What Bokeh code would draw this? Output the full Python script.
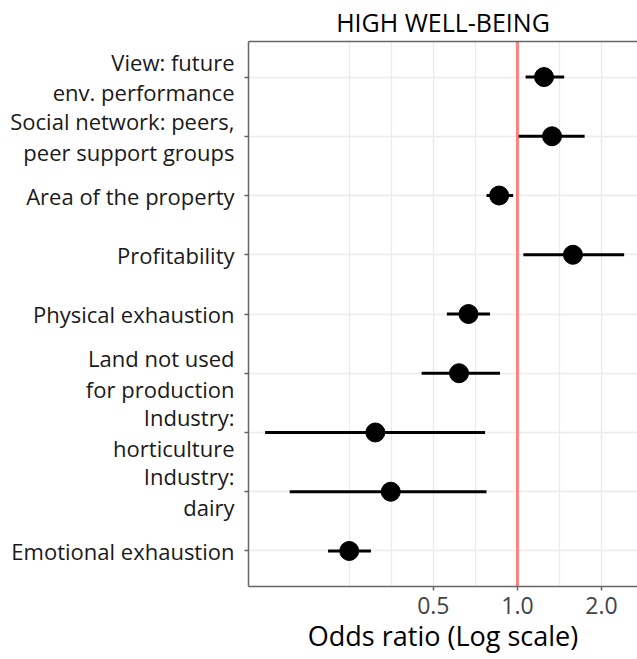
from bokeh.plotting import figure
from bokeh.models import (FactorRange, Range1d, FixedTicker, CustomJSTickFormatter,
                          Span, LinearAxis, ColumnDataSource)
from bokeh.embed import file_html
from bokeh.resources import INLINE

# ---- data (top to bottom as shown) ----
predictors = [
    "View: future\nenv. performance",
    "Social network: peers,\npeer support groups",
    "Area of the property",
    "Profitability",
    "Physical exhaustion",
    "Land not used\nfor production",
    "Industry:\nhorticulture",
    "Industry:\ndairy",
    "Emotional exhaustion",
]
odds_ratio = [1.245, 1.33, 0.86, 1.58, 0.668, 0.618, 0.31, 0.352, 0.25]
ci_lower = [1.07, 1.01, 0.775, 1.05, 0.559, 0.454, 0.125, 0.153, 0.21]
ci_upper = [1.47, 1.74, 0.965, 2.41, 0.798, 0.866, 0.766, 0.775, 0.299]
x_ticks = [0.5, 1.0, 2.0]
x_minor_ticks = [0.25, 0.3536, 0.7071, 1.4142]
reference_line = 1.0
x_title = "Odds ratio (Log scale)"

FONT = "Open Sans"

source = ColumnDataSource(dict(pred=predictors, odds=odds_ratio, lo=ci_lower, hi=ci_upper))

p = figure(
    width=637, height=659,
    x_axis_type="log",
    x_range=Range1d(0.109, 2.69),
    y_range=FactorRange(factors=predictors[::-1], range_padding=0.1,
                        range_padding_units="absolute"),
    output_backend="svg", toolbar_location=None,
    min_border_left=248, min_border_right=0, min_border_top=39, min_border_bottom=73,
    background_fill_color="white", border_fill_color="white",
    outline_line_color=None,
)

# title
p.title.text = "HIGH WELL-BEING"
p.title.align = "center"
p.title.text_font = FONT
p.title.text_font_size = "25px"
p.title.text_font_style = "normal"
p.title.text_color = "black"
p.title.standoff = 5

# grids
p.xgrid.grid_line_color = "#ebebeb"
p.xgrid.grid_line_width = 1.4
p.xgrid.minor_grid_line_color = "#ebebeb"
p.xgrid.minor_grid_line_width = 1.2
p.ygrid.grid_line_color = "#ebebeb"
p.ygrid.grid_line_width = 1.4

# x axis
xa = p.xaxis[0]
xa.ticker = FixedTicker(ticks=x_ticks, minor_ticks=x_minor_ticks)
xa.formatter = CustomJSTickFormatter(code="return tick.toFixed(1);")
xa.axis_label = x_title
xa.axis_label_text_font = FONT
xa.axis_label_text_font_size = "27px"
xa.axis_label_text_font_style = "normal"
xa.axis_label_text_color = "black"
xa.axis_label_text_baseline = "middle"
xa.axis_label_standoff = 0
xa.major_label_text_font = FONT
xa.major_label_text_font_size = "23px"
xa.major_label_text_color = "#444444"
xa.major_label_standoff = 6
xa.axis_line_color = "#666666"
xa.axis_line_width = 1.5
xa.major_tick_line_color = "#666666"
xa.major_tick_line_width = 1.5
xa.major_tick_out = 4
xa.major_tick_in = 0
xa.minor_tick_line_color = None

# y axis
ya = p.yaxis[0]
ya.major_label_text_font = FONT
ya.major_label_text_font_size = "22px"
ya.major_label_text_color = "#1a1a1a"
ya.major_label_text_line_height = 1.02
ya.major_label_standoff = 10
ya.axis_line_color = "#666666"
ya.axis_line_width = 1.5
ya.major_tick_line_color = "#666666"
ya.major_tick_line_width = 1.5
ya.major_tick_out = 4
ya.major_tick_in = 0

# top border
top = LinearAxis(ticker=FixedTicker(ticks=[]), major_tick_out=0, major_tick_in=0,
                 minor_tick_out=0, minor_tick_in=0, major_label_standoff=0,
                 axis_line_color="#666666", axis_line_width=1.5,
                 major_label_text_font_size="0px")
p.add_layout(top, "above")

# reference line
p.add_layout(Span(location=reference_line, dimension="height", line_color="#FF8080",
                  line_width=3, level="underlay"))

# CIs and points
p.segment(x0="lo", y0="pred", x1="hi", y1="pred", source=source,
          line_color="black", line_width=3)
p.scatter(x="odds", y="pred", source=source, size=19, fill_color="black", line_color="black")

open("out.html", "w").write(file_html(p, INLINE))
